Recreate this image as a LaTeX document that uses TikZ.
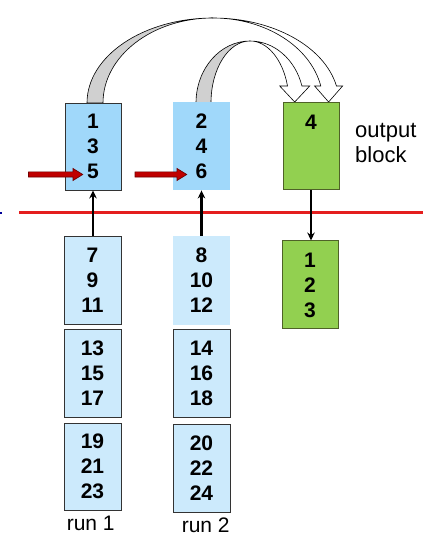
\documentclass[tikz,border=0pt]{standalone}
\usepackage{fontspec}
\setmainfont{Liberation Sans}
\usetikzlibrary{arrows.meta}
\definecolor{topblue}{RGB}{160,216,250}
\definecolor{lowblue}{RGB}{204,234,252}
\definecolor{greenfill}{RGB}{146,208,80}
\definecolor{greenline}{RGB}{79,98,40}
\definecolor{darkred}{RGB}{192,0,0}
\definecolor{darkredline}{RGB}{110,0,0}
\definecolor{redline}{RGB}{228,30,30}
\definecolor{bandgray}{RGB}{208,208,208}
\tikzset{
  blk/.style={rectangle, inner sep=0pt, align=center, font=\fontsize{21}{25}\selectfont\bfseries},
  bluebox/.style={blk, fill=lowblue, draw=black!80, line width=0.9pt},
  topbox/.style={blk, fill=topblue, draw=black!80, line width=0.9pt},
  greenbox/.style={blk, fill=greenfill, draw=greenline, line width=1pt},
  redarrow/.style={fill=darkred, draw=darkredline, line width=0.7pt},
  uparrow/.style={line width=2.4pt, -{Stealth[length=8pt,width=7.5pt]}},
  band/.style={draw=black, line width=0.6pt},
  lbl/.style={inner sep=0pt, font=\fontsize{21}{25}\selectfont}
}
\begin{document}
\begin{tikzpicture}[x=1pt,y=1pt]
\useasboundingbox (0,0) rectangle (427,543);
% curved arrows
\path[band, fill=bandgray] (87,440) arc[start angle=180,end angle=90,x radius=126pt,y radius=85pt]
  arc[start angle=90,end angle=180,x radius=110pt,y radius=85pt] -- cycle;
\path[band, fill=white] (213,525) arc[start angle=90,end angle=11.54,x radius=126pt,y radius=85pt]
  -- (342.6,457) -- (328.6,441) -- (314.6,457) -- (320.78,457)
  arc[start angle=11.54,end angle=90,x radius=110pt,y radius=85pt] -- cycle;
\path[band, fill=bandgray] (196,440) arc[start angle=180,end angle=90,x radius=54pt,y radius=62pt]
  arc[start angle=90,end angle=180,x radius=39pt,y radius=62pt] -- cycle;
\path[band, fill=white] (250,502) arc[start angle=90,end angle=15.9,x radius=54pt,y radius=62pt]
  -- (309.7,457) -- (294.7,441) -- (279.7,457) -- (287.5,457)
  arc[start angle=15.9,end angle=90,x radius=39pt,y radius=62pt] -- cycle;
% top blocks
\node[topbox, minimum width=56pt, minimum height=87pt] (a1) at (93,396.5) {1\\3\\5};
\node[topbox, draw=none, minimum width=57pt, minimum height=88pt] (a2) at (201.5,397) {2\\4\\6};
\node[greenbox, minimum width=56pt, minimum height=87pt] (g4) at (311,396.5) {};
\node[blk] (g4t) at (311,420.7) {4};
% output label
\node[lbl, anchor=base west, font=\fontsize{22}{25}\selectfont] (out1) at (355,405) {output};
\node[lbl, anchor=base west, font=\fontsize{22}{25}\selectfont] (out2) at (355,380) {block};
% red line
\coordinate (rl1) at (19,330);
\coordinate (rl2) at (423,330);
\draw[redline, line width=3pt] (rl1) -- (rl2);
\fill[blue!60!black] (0,329.3) rectangle (2,330.7);
% red block arrows
\coordinate (r1) at (28.5,368.5);
\coordinate (r2) at (135,368.5);
\path[redarrow] (r1) ++(0,2.6) -- ++(44.5,0) -- ++(0,3.4) -- ++(9.7,-6) -- ++(-9.7,-6) -- ++(0,3.4) -- ++(-44.5,0) -- cycle;
\path[redarrow] (r2) ++(0,2.6) -- ++(42,0) -- ++(0,3.4) -- ++(9.7,-6) -- ++(-9.7,-6) -- ++(0,3.4) -- ++(-42,0) -- cycle;
% lower blocks
\node[bluebox, minimum width=57pt, minimum height=88pt] (b1) at (92.5,263) {7\\9\\11};
\node[bluebox, draw=none, minimum width=57pt, minimum height=89pt] (b2) at (201.5,262.5) {8\\10\\12};
\node[bluebox, minimum width=57pt, minimum height=88pt] (c1) at (92.5,170) {13\\15\\17};
\node[bluebox, minimum width=57pt, minimum height=88pt] (c2) at (201.5,170) {14\\16\\18};
\node[bluebox, minimum width=57pt, minimum height=87pt] (d1) at (92.5,76.5) {19\\21\\23};
\node[bluebox, minimum width=57pt, minimum height=88pt] (d2) at (201.5,75) {20\\22\\24};
\node[greenbox, minimum width=56pt, minimum height=88pt] (g2) at (310,258) {1\\2\\3};
% black arrows
\draw[uparrow] (b1.north -| a1.south) -- (a1.south);
\draw[uparrow] (b2.north) -- (a2.south);
\draw[uparrow] (g4.south) -- (g4.south |- g2.north);
% run labels
\node[lbl, anchor=base] (run1) at (90.7,12.3) {run 1};
\node[lbl, anchor=base] (run2) at (205.7,10.3) {run 2};
\end{tikzpicture}
\end{document}
